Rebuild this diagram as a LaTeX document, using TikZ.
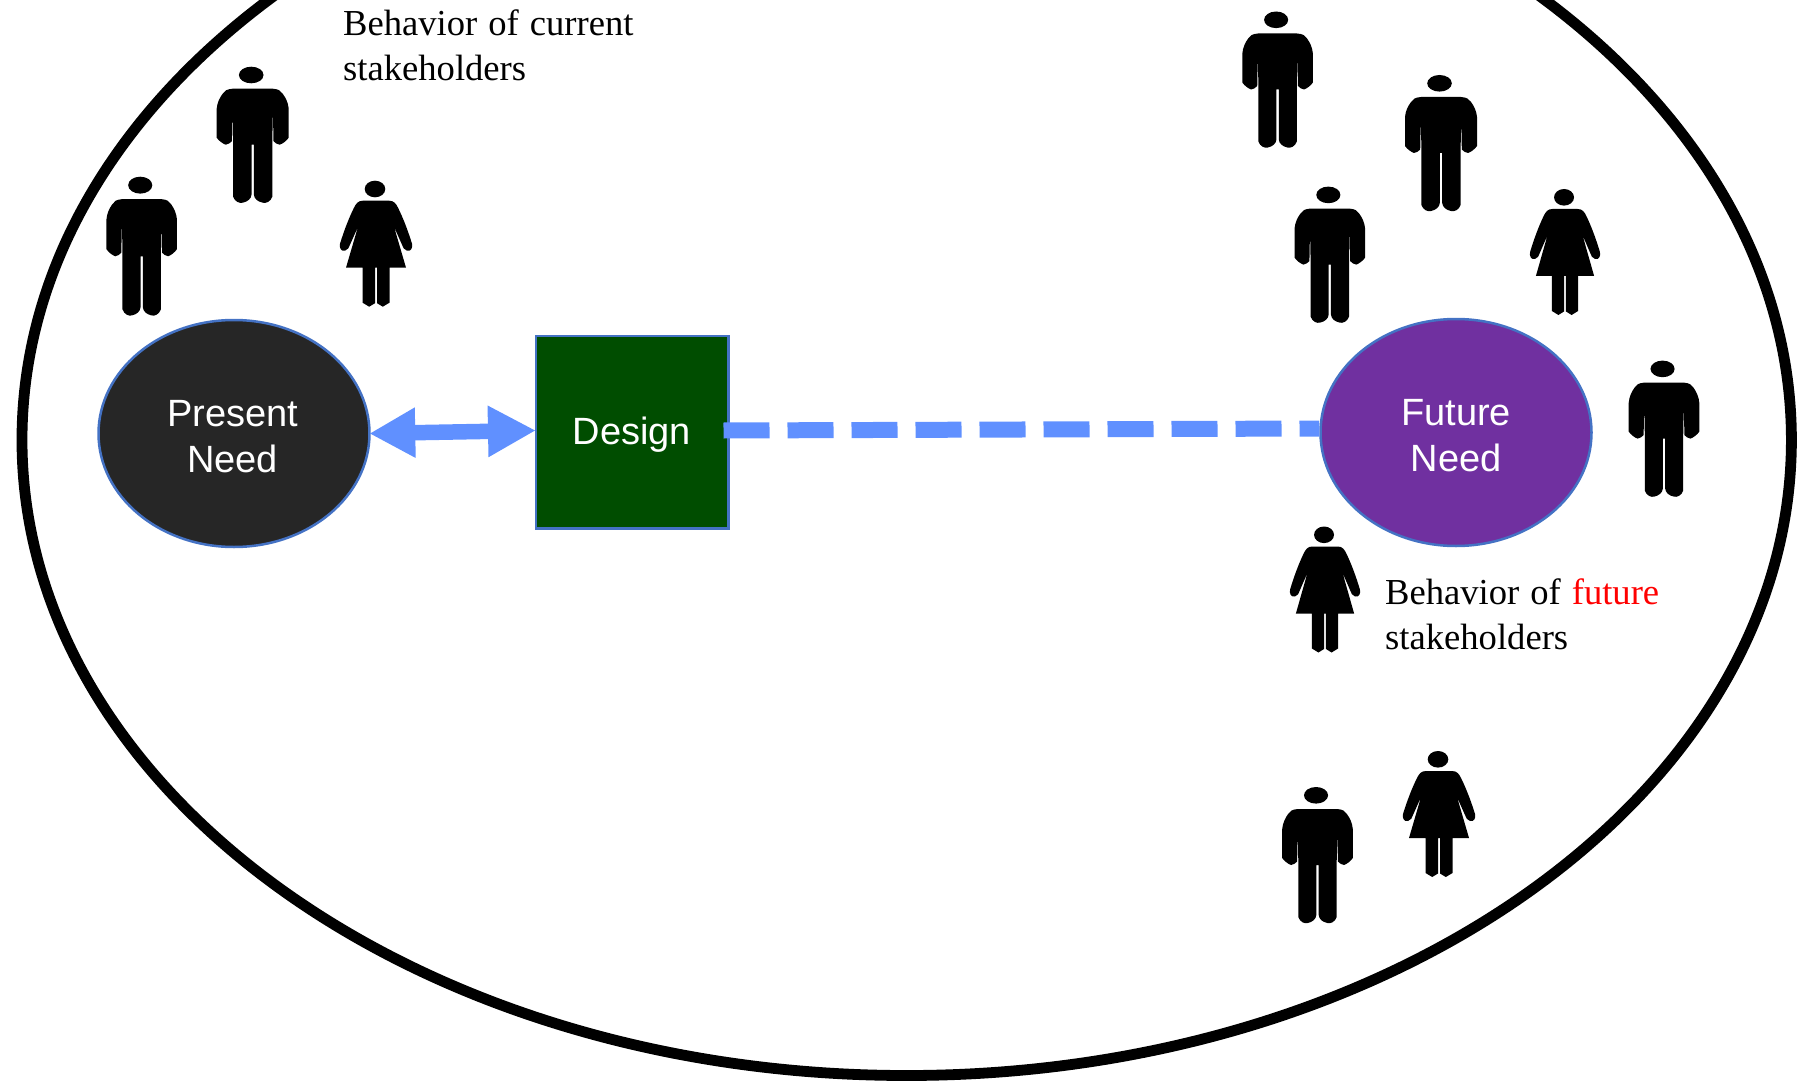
\documentclass[tikz,border=0pt]{standalone}
\usepackage{fontspec}
\setmainfont[WordSpace=1.2]{Liberation Serif}
\setsansfont{Liberation Sans}
\usetikzlibrary{shapes.geometric,arrows.meta}
\definecolor{edgeblue}{HTML}{4472C4}
\definecolor{flowblue}{HTML}{6090FF}
\definecolor{darkfill}{HTML}{262626}
\definecolor{greenfill}{HTML}{004D00}
\definecolor{purplefill}{HTML}{7030A0}
\tikzset{
  world/.style={draw=black,line width=10.8pt,ellipse,minimum width=1769.4pt,minimum height=1271pt,inner sep=0pt},
  need/.style={ellipse,draw=edgeblue,line width=2.5pt,minimum width=271pt,minimum height=227pt,inner sep=0pt,text=white,align=center,font=\sffamily\fontsize{38}{45.5}\selectfont},
  designbox/.style={rectangle,draw=edgeblue,line width=2.5pt,minimum width=192.5pt,minimum height=192.5pt,inner sep=0pt,text=white,fill=greenfill,font=\sffamily\fontsize{38}{45.5}\selectfont},
  note/.style={anchor=north west,inner sep=0pt,align=left,font=\rmfamily\fontsize{36.6}{44.8}\selectfont},
  twoway/.style={draw=flowblue,line width=15.5pt,{Triangle[length=46pt,width=47pt]}-{Triangle[length=48pt,width=48pt]},shorten <=-1.5pt,shorten >=-1.5pt},
  future link/.style={draw=flowblue,line width=16pt,dash pattern=on 46pt off 18pt},
  man/.pic={
    \fill[black] (-1.5,8.3) ellipse [x radius=12.3,y radius=8.3];
    \fill[black] (-20,22) -- (20,22) .. controls (26,22.5) and (28,24) .. (30,27)
      .. controls (33,31) and (35.5,36) .. (36,42) -- (36,71) .. controls (34,74) and (30,77) .. (27,78) .. controls (25,78) and (22,76) .. (20.8,74.5) -- (20.2,43) -- (19.6,74)
      -- (19.6,130) .. controls (18,135) and (13,137) .. (10,136) .. controls (5,135) and (1.5,132) .. (1.2,128)
      -- (1.2,78) -- (-1.2,78) -- (-1.2,128) .. controls (-1.5,132) and (-5,135) .. (-10,136)
      .. controls (-13,137) and (-18,135) .. (-19.6,130) -- (-19.6,74) -- (-20.2,43) -- (-20.8,74.5)
      .. controls (-22,76) and (-25,78) .. (-27,78) .. controls (-30,77) and (-34,74) .. (-36,71) -- (-36,42) .. controls (-35.5,36) and (-33,31) .. (-30,27)
      .. controls (-28,24) and (-26,22.5) .. (-20,22) -- cycle;
  },
  woman/.pic={
    \fill[black] (-1,8.3) ellipse [x radius=10.3,y radius=8.3];
    \fill[black] (-13,20) -- (13,20) .. controls (18,20) and (20,23) .. (22,27)
      .. controls (27,37) and (32,50) .. (36,63) .. controls (37,67) and (35,71) .. (31,70)
      .. controls (28,69) and (27,67) .. (26,64) -- (18,46) -- (30,87) -- (13.5,87) -- (13.5,122) -- (6.8,126) -- (1,122.5)
      -- (1,87) -- (-1,87) -- (-1,122.5) -- (-6.8,126) -- (-13.5,122) -- (-13.5,87) -- (-30,87) -- (-18,46)
      -- (-26,64) .. controls (-27,67) and (-28,69) .. (-31,70) .. controls (-35,71) and (-37,67) .. (-36,63)
      .. controls (-32,50) and (-27,37) .. (-22,27) .. controls (-20,23) and (-18,20) .. (-13,20) -- cycle;
  }
}
\begin{document}
\begin{tikzpicture}[x=1pt,y=-1pt]
\useasboundingbox (0,0) rectangle (1806,1083);
\clip (0,0) rectangle (1806,1083);
\node[world] (world) at (906.7,440) {};
\node[need,fill=darkfill] (present) at (234,433.5) {\rule{0pt}{32.4pt}Present\hspace*{2pt}\\Need\hspace*{3pt}};
\node[need,fill=purplefill] (future) at (1456,432.5) {\rule{0pt}{32.4pt}Future\\Need};
\node[designbox] (design) at (632,432) {\rule{0pt}{33.4pt}Design};
\draw[twoway] (present.east) -- ([yshift=1.5pt]design.west);
\draw[future link] ([xshift=-6pt,yshift=1.5pt]design.east) -- ([yshift=4pt]future.west);
\node[note] (currentnote) at (343,10) {Behavior of current\\stakeholders};
\node[note] (futurenote) at (1385,578.5) {Behavior of \textcolor{red}{future}\\stakeholders};
\pic at (252.7,66.7) {man};
\pic[yscale=1.02,xscale=.98] at (141.7,176.7) {man};
\pic[xscale=.98] at (1277.6,11.5) {man};
\pic at (1441,75) {man};
\pic[xscale=.98] at (1329.8,186.6) {man};
\pic[xscale=.98] at (1664,360.6) {man};
\pic[xscale=.98] at (1317.5,787) {man};
\pic at (376,180.7) {woman};
\pic[xscale=.97] at (1565,189) {woman};
\pic[xscale=.97] at (1325,526.5) {woman};
\pic at (1439,751) {woman};
\end{tikzpicture}
\end{document}
